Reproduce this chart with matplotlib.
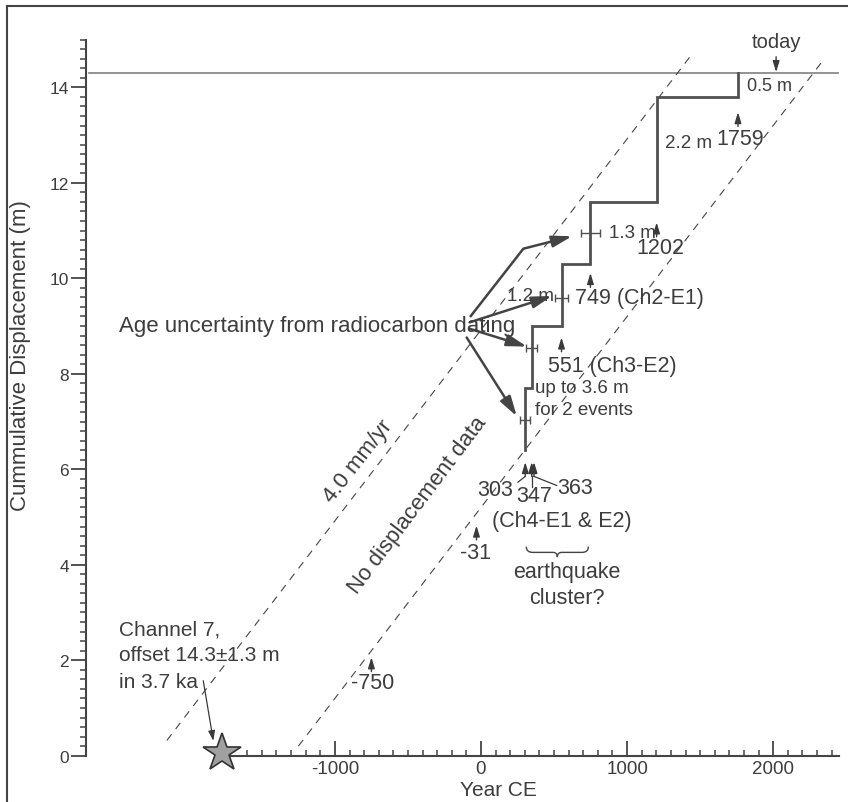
import matplotlib
matplotlib.use('Agg')
import matplotlib.pyplot as plt
import numpy as np
from matplotlib.path import Path
from matplotlib.patches import PathPatch
from matplotlib.lines import Line2D

plt.rcParams['font.family'] = ['Liberation Sans', 'DejaVu Sans']
plt.rcParams['axes.unicode_minus'] = False

# ---------------- data ----------------
event_years = [303, 347, 551, 749, 1202, 1759]
step_levels = [6.4, 7.7, 9.0, 10.3, 11.6, 13.8, 14.3]
total_offset = 14.3
today_year = 2020
rate_m_per_yr = 0.004
rate_line_origins = [-2230, -1300]
rate_line_xranges = [(-2150, 1440), (-1250, 2340)]
errbar_years = [749, 551, 347, 303]
errbar_disp = [10.94, 9.59, 8.54, 7.04]
errbar_halfwidth = [63, 45, 37, 35]
marker_years = [-750, -31, 303, 347, 363, 551, 749, 1202, 1759]
marker_tip = [2.06, 4.82, 6.15, 6.15, 6.15, 8.76, 10.11, 11.17, 13.48]
marker_len = 0.3
channel7_year = -1770
channel7_disp = 0.05
xticks_major = [-1000, 0, 1000, 2000]
yticks_major = [0, 2, 4, 6, 8, 10, 12, 14]

TXT = '#3d3d3d'
LN = '#505050'

W, H = 848, 803
fig = plt.figure(figsize=(W / 100, H / 100), dpi=100)
ax = fig.add_axes([0, 0, 1, 1])
ax.patch.set_alpha(0)
# pixel mapping: x_px = 481 + 0.1461*year ; y_px = 756.7 - 47.74*disp
ax.set_xlim(-481 / 0.1461, (W - 481) / 0.1461)
ax.set_ylim((756.7 - H) / 47.74, 756.7 / 47.74)

# figure frame (left and top)
fig.add_artist(Line2D([7 / W, 7 / W], [0, 1 - 7 / H], color='#444444', lw=1.5))
fig.add_artist(Line2D([7 / W, 1], [1 - 7 / H, 1 - 7 / H], color='#444444', lw=1.5))

# spines
for s in ['top', 'right']:
    ax.spines[s].set_visible(False)
ax.spines['left'].set_position(('data', -2707))
ax.spines['left'].set_bounds(0, 15)
ax.spines['bottom'].set_position(('data', 0))
ax.spines['bottom'].set_bounds(channel7_year, 2450)
for s in ['left', 'bottom']:
    ax.spines[s].set_color('#444444')
    ax.spines[s].set_linewidth(1.5)

ax.set_xticks(xticks_major)
ax.set_xticks(np.arange(-1600, 2401, 100), minor=True)
ax.set_yticks(yticks_major)
ax.set_yticks(np.arange(0, 15.01, 0.2), minor=True)
ax.tick_params(axis='x', which='major', direction='in', length=10.5, width=1.3,
               color='#444444', labelsize=13.5, labelcolor=TXT, pad=3)
ax.tick_params(axis='x', which='minor', direction='in', length=4.3, width=1.1,
               color='#444444')
ax.tick_params(axis='y', which='major', direction='out', length=10.5, width=1.3,
               color='#444444', labelsize=12.5, labelcolor=TXT, pad=1.5)
ax.tick_params(axis='y', which='minor', direction='out', length=4.3, width=1.1,
               color='#444444')

# axis labels
ax.text(116, -0.70, 'Year CE', ha='center', va='center', fontsize=15, color=TXT)
ax.text(-3150, 8.4, 'Cummulative Displacement (m)', ha='center', va='center',
        rotation=90, fontsize=16, color=TXT)

# present-day total offset line
ax.plot([-2683, 2445], [total_offset, total_offset], color='#8a8a8a', lw=1.3)

# 4.0 mm/yr envelope lines
for x0, (xa, xb) in zip(rate_line_origins, rate_line_xranges):
    xs = np.array([xa, xb])
    ax.plot(xs, rate_m_per_yr * (xs - x0), color='#444444', lw=0.8,
            dashes=(7, 6))

# staircase
sx, sy = [], []
for i, yr in enumerate(event_years):
    sx += [yr, yr]
    sy += [step_levels[i], step_levels[i + 1]]
ax.plot(sx, sy, color=LN, lw=2.0, solid_joinstyle='miter')

# error bars
ax.errorbar(errbar_years, errbar_disp, xerr=errbar_halfwidth, fmt='none',
            ecolor=LN, elinewidth=1.0, capsize=3, capthick=1.0, zorder=4)

# event arrows
for yr, tip in zip(marker_years, marker_tip):
    ax.annotate('', xy=(yr, tip), xytext=(yr, tip - marker_len),
                arrowprops=dict(arrowstyle='-|>,head_length=0.65,head_width=0.2',
                                lw=1.0, color='#3a3a3a', shrinkA=0, shrinkB=0))
# today arrow
ax.annotate('', xy=(today_year, total_offset + 0.02), xytext=(today_year, total_offset + 0.34),
            arrowprops=dict(arrowstyle='-|>,head_length=0.65,head_width=0.2',
                            lw=1.0, color='#3a3a3a', shrinkA=0, shrinkB=0))
# leader lines for the 303 / 347 / 363 cluster
ax.plot([303, 253], [5.85, 5.73], color='#3a3a3a', lw=0.9)
ax.plot([347, 347], [5.85, 5.62], color='#3a3a3a', lw=0.9)
ax.plot([363, 518], [5.85, 5.66], color='#3a3a3a', lw=0.9)

# star (Channel 7)
ax.plot([channel7_year], [channel7_disp], marker='*', markersize=29,
        markerfacecolor='#a0a0a0', markeredgecolor='#333333',
        markeredgewidth=1.2, zorder=6, clip_on=False)
ax.annotate('', xy=(-1832, 0.31), xytext=(-1901, 1.57),
            arrowprops=dict(arrowstyle='-|>,head_length=0.6,head_width=0.2',
                            lw=0.9, color='#3a3a3a', shrinkA=0, shrinkB=0))

# "age uncertainty" arrows
AC = '#444444'
big = dict(arrowstyle='-|>,head_length=1.2,head_width=0.35', lw=1.8, color=AC,
           shrinkA=0, shrinkB=0)
ax.plot([-75, 290], [9.19, 10.62], color=AC, lw=1.8, solid_capstyle='butt')
ax.annotate('', xy=(623, 10.88), xytext=(290, 10.62), arrowprops=big)
ax.annotate('', xy=(486, 9.63), xytext=(-75, 9.08), arrowprops=big)
ax.annotate('', xy=(314, 8.57), xytext=(-75, 8.94), arrowprops=big)
ax.annotate('', xy=(245, 7.11), xytext=(-98, 8.76), arrowprops=big)

# brace for earthquake cluster
def brace(x0, x1, yt, h):
    w = x1 - x0
    xc = (x0 + x1) / 2
    ym = yt - h * 0.55
    yb = yt - h
    verts = [(x0, yt), (x0, ym), (x0 + 0.1 * w, ym),
             (xc - 0.07 * w, ym),
             (xc, ym), (xc, yb),
             (xc, ym), (xc + 0.07 * w, ym),
             (x1 - 0.1 * w, ym),
             (x1, ym), (x1, yt)]
    codes = [Path.MOVETO, Path.CURVE3, Path.CURVE3, Path.LINETO,
             Path.CURVE3, Path.CURVE3, Path.CURVE3, Path.CURVE3,
             Path.LINETO, Path.CURVE3, Path.CURVE3]
    return PathPatch(Path(verts, codes), fill=False, edgecolor='#444444', lw=1.0)

ax.add_patch(brace(310, 735, 4.38, 0.22))

# ---------------- text ----------------
FS_EV = 15.5
FS_A = 13.5
def t(x, y, s, fs=FS_A, ha='left', **kw):
    ax.text(x, y, s, fontsize=fs, ha=ha, va='center', color=TXT, **kw)

t(2026, 14.95, 'today', fs=14.5, ha='center')
t(1821, 14.04, '0.5 m', fs=13)
t(1259, 12.85, '2.2 m')
t(1773, 12.92, '1759', fs=FS_EV, ha='center')
t(878, 10.96, '1.3 m')
t(1225, 10.65, '1202', fs=FS_EV, ha='center')
t(500, 9.64, '1.2 m', ha='right')
t(643, 9.59, '749 (Ch2-E1)', fs=FS_EV)
t(461, 8.17, '551 (Ch3-E2)', fs=FS_EV)
t(370, 7.72, 'up to 3.6 m')
t(370, 7.26, 'for 2 events')
t(96, 5.58, '303', fs=FS_EV, ha='center')
t(365, 5.45, '347', fs=FS_EV, ha='center')
t(643, 5.62, '363', fs=FS_EV, ha='center')
t(552, 4.92, '(Ch4-E1 & E2)', fs=FS_EV, ha='center')
t(-41, 4.26, '-31', fs=FS_EV, ha='center')
t(586, 3.85, 'earthquake', fs=FS_EV, ha='center')
t(586, 3.32, 'cluster?', fs=FS_EV, ha='center')
t(-741, 1.54, '-750', fs=FS_EV, ha='center')
t(-2481, 2.65, 'Channel 7,', fs=15)
t(-2481, 2.11, 'offset 14.3±1.3 m', fs=15)
t(-2481, 1.55, 'in 3.7 ka', fs=15)
t(233, 9.02, 'Age uncertainty from radiocarbon dating', fs=16, ha='right')
t(-842, 6.17, '4.0 mm/yr', fs=16, ha='center', rotation=52, rotation_mode='anchor')
t(-431, 5.27, 'No displacement data', fs=16, ha='center', rotation=53,
  rotation_mode='anchor')

fig.savefig('out.png', dpi=100)
